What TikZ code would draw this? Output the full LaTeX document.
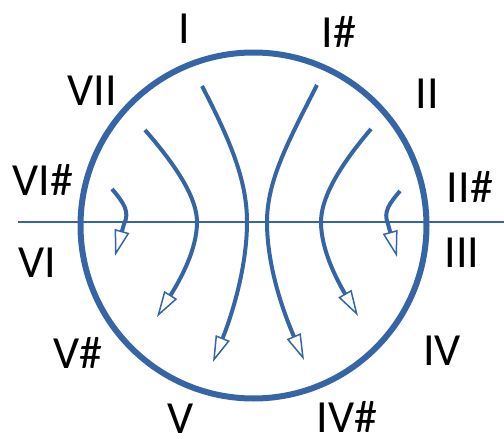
\documentclass[tikz,border=0pt]{standalone}
\usepackage{fontspec}
\setmainfont{Carlito}
\usetikzlibrary{arrows.meta}
\definecolor{ringblue}{RGB}{54,101,166}

\begin{document}
\begin{tikzpicture}[
  x=1pt, y=-1pt,
  ring/.style={draw=ringblue, line width=6pt},
  axisline/.style={draw=ringblue, line width=2pt},
  flow/.style={draw=ringblue, line width=4pt, -{Triangle[open, length=26pt, width=15pt, line width=1.5pt]}},
  degree/.style={font=\fontsize{46}{50}\selectfont, anchor=base, inner sep=0pt}
]
  \useasboundingbox (0,0) rectangle (504,439);
  \coordinate (c) at (253.5,225.5);
  \draw[ring] (c) circle[radius=173];
  \draw[axisline] (18,222) -- (504,222);

  % left side
  \draw[flow] (112,189) .. controls (124,203) and (130,212) .. (124,224) -- (115,256);
  \draw[flow] (145,130) .. controls (180,170) and (197,200) .. (197,222) .. controls (197,250) and (180,280) .. (157,317);
  \draw[flow] (202,86) .. controls (230,140) and (247,180) .. (247,222) .. controls (247,270) and (230,320) .. (213,362);
  % right side
  \draw[flow] (317,85) .. controls (289,140) and (267,180) .. (267,222) .. controls (267,270) and (286,318) .. (304,360);
  \draw[flow] (371,129) .. controls (336,170) and (321,200) .. (321,222) .. controls (321,250) and (337,280) .. (358,316);
  \draw[flow] (400,191) .. controls (389,204) and (383,212) .. (388,224) -- (397,257);

  % labels
  \node[degree] (lI)    at (184,43)  {I};
  \node[degree] (lIs)   at (339,47)  {I\#};
  \node[degree] (lVII)  at (92,105)  {VII};
  \node[degree] (lII)   at (427,108) {II};
  \node[degree] (lVIs)  at (43,195)  {VI\#};
  \node[degree] (lIIs)  at (470,202) {II\#};
  \node[degree] (lVI)   at (37,277)  {VI};
  \node[degree] (lIII)  at (462,267) {III};
  \node[degree] (lVs)   at (78,368)  {V\#};
  \node[degree] (lIV)   at (442,365) {IV};
  \node[degree] (lV)    at (181,433) {V};
  \node[degree] (lIVs)  at (347,432) {IV\#};
\end{tikzpicture}
\end{document}
